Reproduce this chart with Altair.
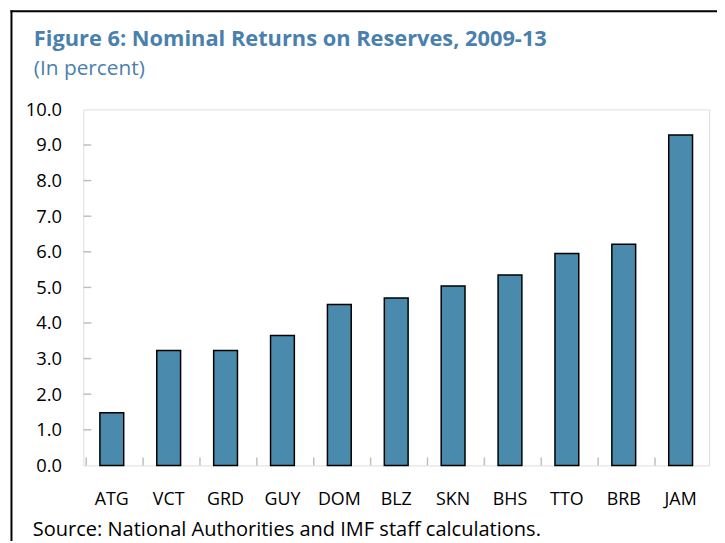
import altair as alt
import pandas as pd

countries = ["ATG", "VCT", "GRD", "GUY", "DOM", "BLZ", "SKN", "BHS", "TTO", "BRB", "JAM"]
values = [1.48, 3.23, 3.23, 3.65, 4.52, 4.70, 5.04, 5.35, 5.95, 6.21, 9.28]
y_ticks = [0, 1, 2, 3, 4, 5, 6, 7, 8, 9, 10]

title_text = "Figure 6: Nominal Returns on Reserves, 2009-13"
subtitle_text = "(In percent)"
source_text = "Source: National Authorities and IMF staff calculations."

W, H = 631, 359
PT, PL = 100, 76
BLUE_T = "#4a80ae"
BAR = "#4a8bad"
GRAY = "#bfbfbf"

df = pd.DataFrame({"country": countries, "value": values})
tick_df = pd.DataFrame({"v": y_ticks[1:-1]})
one = pd.DataFrame({"a": [0]})

yscale = alt.Scale(domain=[0, 10], nice=False)
xaxis = alt.Axis(labelAngle=0, ticks=False, tickSize=0, domain=False,
                 labelPadding=25, labelFont="Open Sans", labelFontSize=18,
                 labelColor="black", title=None)
yaxis = alt.Axis(values=y_ticks, format=".1f", ticks=False, tickSize=0,
                 domain=False, grid=False, labelPadding=22,
                 labelFont="Open Sans", labelFontSize=18.5,
                 labelColor="black", title=None)

bars = alt.Chart(df).mark_bar(
    size=24, color=BAR, stroke="black", strokeWidth=1.5
).encode(
    x=alt.X("country:N", sort=countries, title=None, axis=xaxis),
    y=alt.Y("value:Q", scale=yscale, title=None, axis=yaxis),
)

xticks = alt.Chart(df).mark_rule(color=GRAY, strokeWidth=1.5).encode(
    x=alt.X("country:N", sort=countries, bandPosition=0, title=None, axis=xaxis),
    y=alt.value(H - 8),
    y2=alt.value(H),
)

yticks = alt.Chart(tick_df).mark_rule(color=GRAY, strokeWidth=1.5).encode(
    y=alt.Y("v:Q", scale=yscale, title=None, axis=yaxis),
    x=alt.value(0),
    x2=alt.value(8),
)

title = alt.Chart(one).mark_text(
    text=title_text, font="Open Sans", fontSize=22, fontWeight="bold",
    color=BLUE_T, align="left", baseline="alphabetic"
).encode(x=alt.value(-50), y=alt.value(-64))

subtitle = alt.Chart(one).mark_text(
    text=subtitle_text, font="Open Sans", fontSize=21,
    color=BLUE_T, align="left", baseline="alphabetic"
).encode(x=alt.value(-50), y=alt.value(-35))

source = alt.Chart(one).mark_text(
    text=source_text, font="Open Sans", fontSize=20.2,
    color="black", align="left", baseline="alphabetic"
).encode(x=alt.value(-51), y=alt.value(430))

frame_left = alt.Chart(one).mark_rule(color="black", strokeWidth=2).encode(
    x=alt.value(-PL + 3.5), y=alt.value(-PT), y2=alt.value(H + 80)
)
frame_top = alt.Chart(one).mark_rule(color="black", strokeWidth=2).encode(
    y=alt.value(-PT + 1), x=alt.value(-PL + 2.5), x2=alt.value(W + 20)
)

chart = alt.layer(
    bars, xticks, yticks, title, subtitle, source, frame_left, frame_top
).properties(
    width=W, height=H,
    autosize=alt.AutoSizeParams(type="none"),
    padding={"left": PL, "top": PT, "right": 8, "bottom": 74},
).configure_view(
    stroke=GRAY, strokeWidth=1.5
).configure(background="white")

chart.save("out.html", embed_options={"renderer": "svg", "actions": False})
